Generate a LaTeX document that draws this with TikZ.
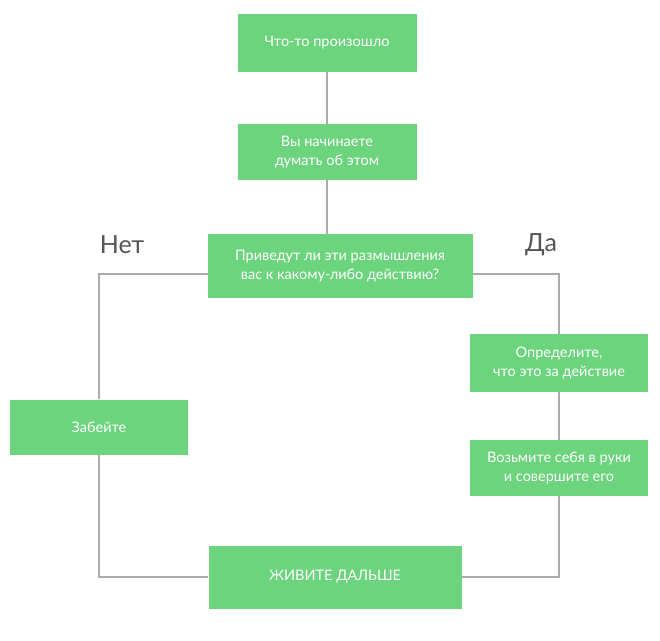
\documentclass[tikz,border=0pt]{standalone}
\usepackage{fontspec}
\setmainfont{Lato}
\definecolor{boxg}{HTML}{6DD47E}
\definecolor{lineg}{HTML}{ABABAB}
\definecolor{txtg}{HTML}{555555}
\begin{document}
\begin{tikzpicture}[x=1pt,y=-1pt,
  gbox/.style={fill=boxg,text=white,align=center,font=\fontsize{14.5}{19}\selectfont,inner sep=0pt},
  conn/.style={draw=lineg,line width=2pt},
  lbl/.style={text=txtg,font=\fontsize{25}{28}\selectfont}]
\useasboundingbox[fill=white] (0,0) rectangle (660,640);
\node[gbox,minimum width=179,minimum height=58] (a) at (327,43) {Что-то произошло};
\node[gbox,minimum width=179,minimum height=56] (b) at (327,152) {Вы начинаете\\думать об этом};
\node[gbox,minimum width=265,minimum height=64] (c) at (340,266) {Приведут ли эти размышления\\вас к какому-либо действию?};
\node[gbox,minimum width=178,minimum height=58] (d) at (559,363) {Определите,\\что это за действие};
\node[gbox,minimum width=178,minimum height=56] (e) at (559,468) {Возьмите себя в руки\\и совершите его};
\node[gbox,minimum width=178,minimum height=55] (f) at (99,427) {Забейте};
\node[gbox,minimum width=253,minimum height=63] (g) at (335,577) {ЖИВИТЕ ДАЛЬШЕ};
\node[lbl] (no) at (122,245) {Нет};
\node[lbl] (yes) at (541,245) {Да};
\coordinate (cl) at (208,274);
\coordinate (cr) at (473,274);
\draw[conn] (a.south) -- (b.north);
\draw[conn] (b.south) -- (b.south |- c.north);
\draw[conn] (cl) -| (f.north);
\draw[conn] (f.south) |- (g.west);
\draw[conn] (cr) -| (d.north);
\draw[conn] (d.south) -- (e.north);
\draw[conn] (e.south) |- (g.east);
\end{tikzpicture}
\end{document}
